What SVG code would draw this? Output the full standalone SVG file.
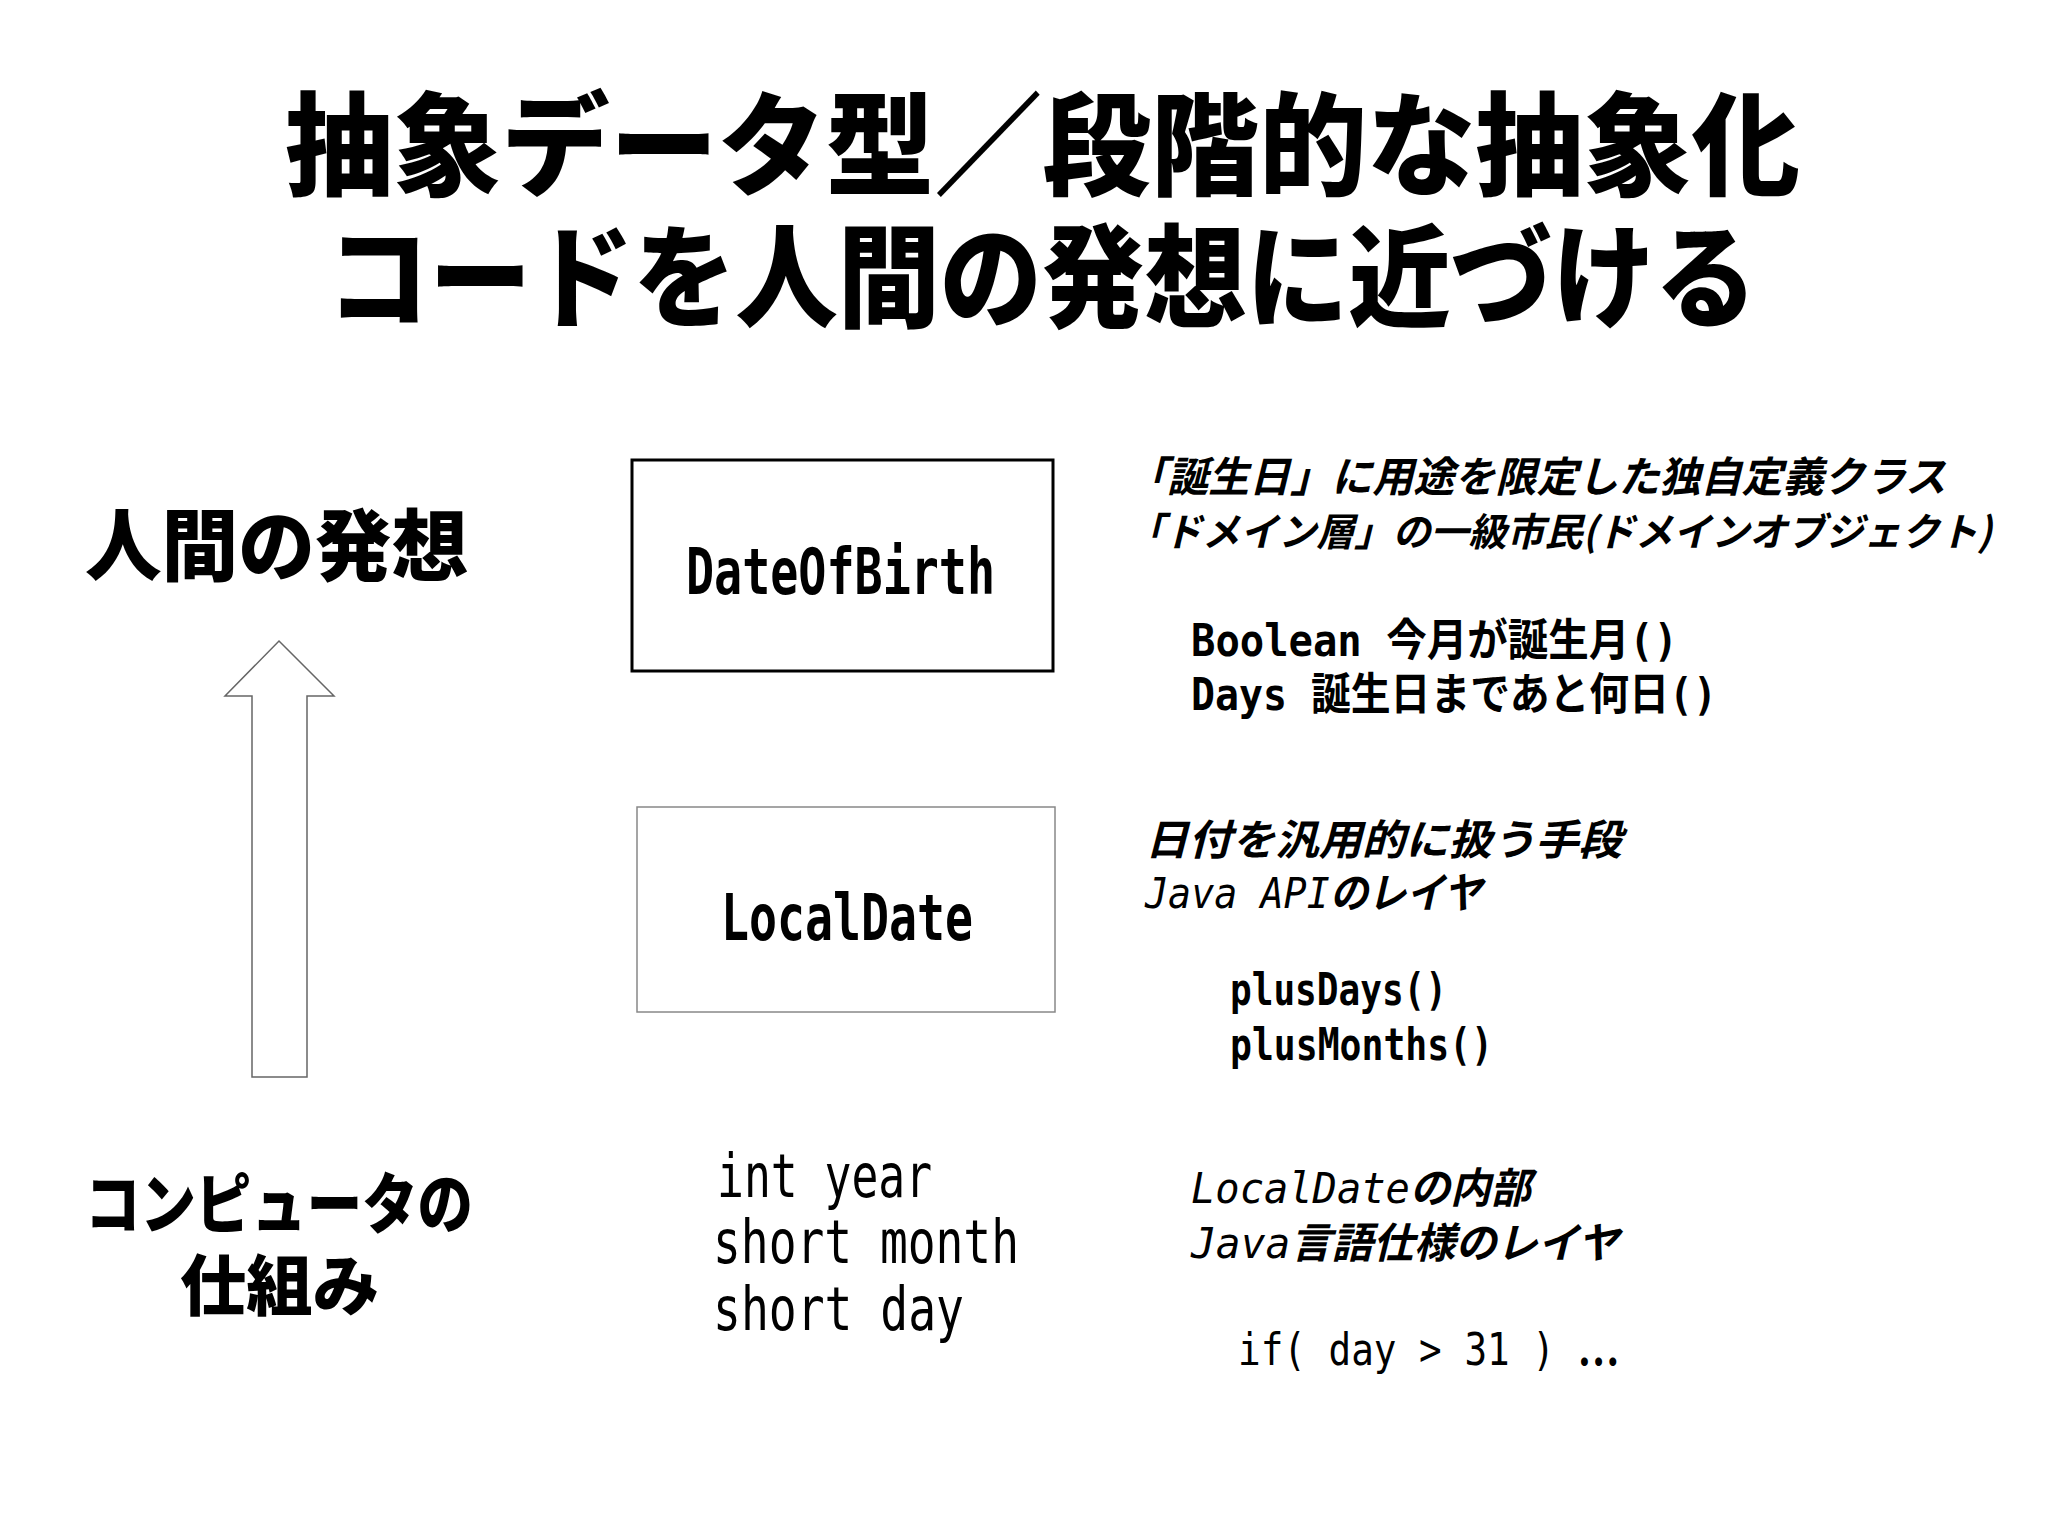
<svg xmlns="http://www.w3.org/2000/svg" width="2048" height="1535" viewBox="0 0 2048 1535">
<style>
.t{font-family:"Noto Sans CJK JP",sans-serif;font-weight:900;fill:#000}
.m{font-family:"DejaVu Sans Mono","Noto Sans CJK JP",monospace;fill:#000}
.b{font-weight:bold}
.i{font-style:italic}
.j{font-family:"Noto Sans CJK JP",sans-serif;font-weight:bold}
</style>
<rect width="2048" height="1535" fill="#fff"/>
<g id="title">
<text class="t" x="285" y="187" font-size="112" textLength="1515" lengthAdjust="spacingAndGlyphs">抽象データ型／段階的な抽象化</text>
<text class="t" x="327" y="319" font-size="112" textLength="1430" lengthAdjust="spacingAndGlyphs">コードを人間の発想に近づける</text>
</g>
<g id="label-human">
<text class="t" x="85" y="575" font-size="78" textLength="383" lengthAdjust="spacingAndGlyphs">人間の発想</text>
</g>
<g id="label-computer">
<text class="t" x="85" y="1228" font-size="66" textLength="388" lengthAdjust="spacingAndGlyphs">コンピュータの</text>
<text class="t" x="180" y="1310" font-size="66" textLength="199" lengthAdjust="spacingAndGlyphs">仕組み</text>
</g>
<g id="connectors">
<polygon points="279,641 334,696 307,696 307,1077 252,1077 252,696 225,696" fill="#fff" stroke="#666" stroke-width="1.5"/>
</g>
<g id="node-dateofbirth">
<rect x="632" y="460" width="421" height="211" fill="#fff" stroke="#000" stroke-width="3"/>
<text class="m b" x="686" y="594" font-size="64" textLength="309" lengthAdjust="spacingAndGlyphs">DateOfBirth</text>
</g>
<g id="node-localdate">
<rect x="637" y="807" width="418" height="205" fill="#fff" stroke="#888" stroke-width="1.5"/>
<text class="m b" x="721" y="940" font-size="64" textLength="252" lengthAdjust="spacingAndGlyphs">LocalDate</text>
</g>
<g id="desc-dateofbirth">
<text class="j i" x="1126" y="492" font-size="42" textLength="820" lengthAdjust="spacingAndGlyphs">「誕生日」に用途を限定した独自定義クラス</text>
<text class="j i" x="1126" y="546" font-size="39" textLength="866" lengthAdjust="spacingAndGlyphs">「ドメイン層」の一級市民(ドメインオブジェクト)</text>
<text class="m b" x="1191" y="656" font-size="44" textLength="487" lengthAdjust="spacingAndGlyphs">Boolean 今月が誕生月()</text>
<text class="m b" x="1191" y="710" font-size="44" textLength="526" lengthAdjust="spacingAndGlyphs">Days 誕生日まであと何日()</text>
</g>
<g id="desc-localdate">
<text class="j i" x="1145" y="855" font-size="42" textLength="477" lengthAdjust="spacingAndGlyphs">日付を汎用的に扱う手段</text>
<text class="m i" x="1145" y="908" font-size="42" textLength="337" lengthAdjust="spacingAndGlyphs">Java API<tspan class="j">のレイヤ</tspan></text>
<text class="m b" x="1230" y="1005" font-size="44" textLength="217" lengthAdjust="spacingAndGlyphs">plusDays()</text>
<text class="m b" x="1230" y="1060" font-size="44" textLength="263" lengthAdjust="spacingAndGlyphs">plusMonths()</text>
</g>
<g id="fields">
<text class="m" x="717" y="1197" font-size="60" textLength="215" lengthAdjust="spacingAndGlyphs">int year</text>
<text class="m" x="713" y="1263" font-size="60" textLength="306" lengthAdjust="spacingAndGlyphs">short month</text>
<text class="m" x="713" y="1330" font-size="60" textLength="251" lengthAdjust="spacingAndGlyphs">short day</text>
</g>
<g id="desc-internal">
<text class="m i" x="1191" y="1203" font-size="42" textLength="340" lengthAdjust="spacingAndGlyphs">LocalDate<tspan class="j">の内部</tspan></text>
<text class="m i" x="1191" y="1258" font-size="42" textLength="428" lengthAdjust="spacingAndGlyphs">Java<tspan class="j">言語仕様のレイヤ</tspan></text>
<text class="m" x="1238" y="1365" font-size="44" textLength="381" lengthAdjust="spacingAndGlyphs">if( day &gt; 31 ) <tspan class="j">…</tspan></text>
</g>
</svg>
